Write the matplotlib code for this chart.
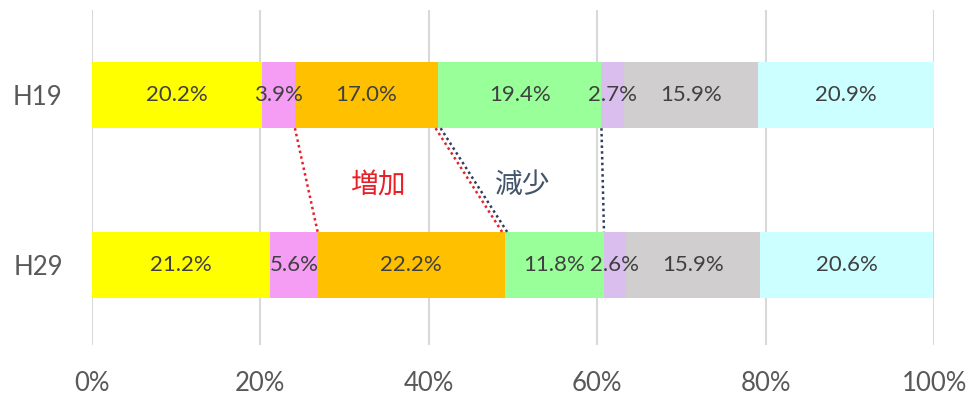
import numpy as np
import matplotlib
matplotlib.use('Agg')
from matplotlib import pyplot as plt

years = ['H19', 'H29']
h19 = [20.2, 3.9, 17.0, 19.4, 2.7, 15.9, 20.9]
h29 = [21.2, 5.6, 22.2, 11.8, 2.6, 15.9, 20.6]
colors = ['#FFFF00', '#F59CF5', '#FFC000', '#99FF99', '#D9BEEE', '#D0CECE', '#CCFFFF']
xticks = [0, 20, 40, 60, 80, 100]

num_font = ['Lato', 'DejaVu Sans']
jp_font = ['Noto Sans CJK JP', 'DejaVu Sans']

fig = plt.figure(figsize=(9.7, 4.01), dpi=100)
ax = fig.add_axes([0.0948, 0.1397, 0.8682, 0.8353])

bar_h = 0.39
data = np.array([h19, h29])
for i in range(len(years)):
    left = 0.0
    for j, v in enumerate(data[i]):
        ax.barh(i, v, left=left, height=bar_h, color=colors[j], edgecolor='none', zorder=2)
        ax.text(left + v / 2, i, '{:.1f}%'.format(v), ha='center', va='center',
                fontsize=16, color='#404040', family=num_font, zorder=4)
        left += v

cum19 = np.cumsum([0] + h19)
cum29 = np.cumsum([0] + h29)
y0 = 0 + bar_h / 2
y1 = 1 - bar_h / 2

# connector lines between the bars
dots = (0, (1, 1.3))
ax.plot([cum19[2], cum29[2]], [y0, y1], color='#E8202A', linestyle=dots, lw=1.8, zorder=3)
ax.plot([cum19[3] - 0.3, cum29[3] - 0.3], [y0, y1], color='#E8202A', linestyle=dots, lw=1.8, zorder=3)
ax.plot([cum19[3] + 0.3, cum29[3] + 0.3], [y0, y1], color='#2F3E5C', linestyle=dots, lw=1.8, zorder=3)
ax.plot([cum19[4], cum29[4]], [y0, y1], color='#2F3E5C', linestyle=dots, lw=1.8, zorder=3)

ax.text(34.0, 0.53, '増加', color='#E8202A', fontsize=20, ha='center', va='center', family=jp_font)
ax.text(51.2, 0.53, '減少', color='#44546A', fontsize=20, ha='center', va='center', family=jp_font)

ax.set_xlim(0, 100)
ax.set_ylim(1.47, -0.5)
ax.set_xticks(xticks)
ax.set_xticklabels(['{}%'.format(t) for t in xticks], family=num_font, fontsize=18.5, color='#595959')
ax.set_yticks(range(len(years)))
ax.set_yticklabels(years, family=num_font, fontsize=18.5, color='#595959')
ax.tick_params(length=0)
ax.tick_params(axis='x', pad=19)
ax.tick_params(axis='y', pad=21)
ax.xaxis.grid(True, color='#D9D9D9', lw=1.5, zorder=0)
ax.set_axisbelow(True)
for s in ax.spines.values():
    s.set_visible(False)

fig.savefig('out.png', dpi=100)
